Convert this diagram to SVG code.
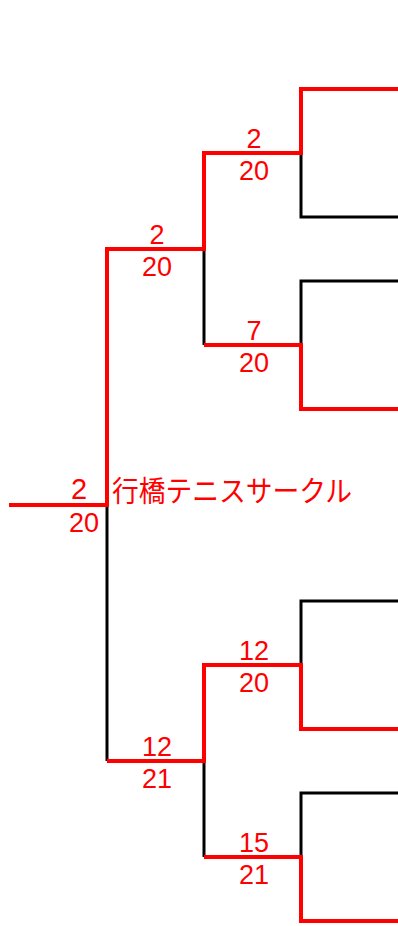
<svg xmlns="http://www.w3.org/2000/svg" width="398" height="926" viewBox="0 0 398 926">
<style>
.w{fill:none;stroke:#FF0000;stroke-width:4;stroke-linejoin:miter;stroke-linecap:butt}
.l{fill:none;stroke:#000000;stroke-width:3;stroke-linejoin:miter;stroke-linecap:butt}
.s{font-family:"Liberation Sans","DejaVu Sans",sans-serif;font-size:27px;fill:#FF0000;text-anchor:middle}
.n{font-family:"Noto Sans CJK JP","Noto Sans",sans-serif;font-size:29px;fill:#FF0000}
</style>
<rect width="398" height="926" fill="#FFFFFF"/>
<g id="connectors">
<path class="l" d="M107,505 V761"/>
<path class="l" d="M204,249 V345"/>
<path class="l" d="M204,761 V857"/>
<path class="l" d="M301,153 V217 H398"/>
<path class="l" d="M301,345 V281 H398"/>
<path class="l" d="M301,665 V601 H398"/>
<path class="l" d="M301,857 V793 H398"/>
<path class="w" d="M9,505 H107 V249 H204 V153 H301 V89 H398"/>
<path class="w" d="M204,345 H301 V409 H398"/>
<path class="w" d="M107,761 H204 V665 H301 V729 H398"/>
<path class="w" d="M204,857 H301 V921 H398"/>
</g>
<g id="root">
<text class="s" x="79" y="499" style="font-size:29px">2</text>
<text class="s" x="84" y="532">20</text>
<text class="n" x="112" y="502" textLength="240" lengthAdjust="spacingAndGlyphs">行橋テニスサークル</text>
</g>
<g id="match-249">
<text class="s" x="157" y="244">2</text>
<text class="s" x="157" y="276">20</text>
</g>
<g id="match-153">
<text class="s" x="254" y="148">2</text>
<text class="s" x="254" y="180">20</text>
</g>
<g id="match-345">
<text class="s" x="254" y="340">7</text>
<text class="s" x="254" y="372">20</text>
</g>
<g id="match-761">
<text class="s" x="157" y="756">12</text>
<text class="s" x="157" y="788">21</text>
</g>
<g id="match-665">
<text class="s" x="254" y="660">12</text>
<text class="s" x="254" y="692">20</text>
</g>
<g id="match-857">
<text class="s" x="254" y="852">15</text>
<text class="s" x="254" y="884">21</text>
</g>
</svg>
